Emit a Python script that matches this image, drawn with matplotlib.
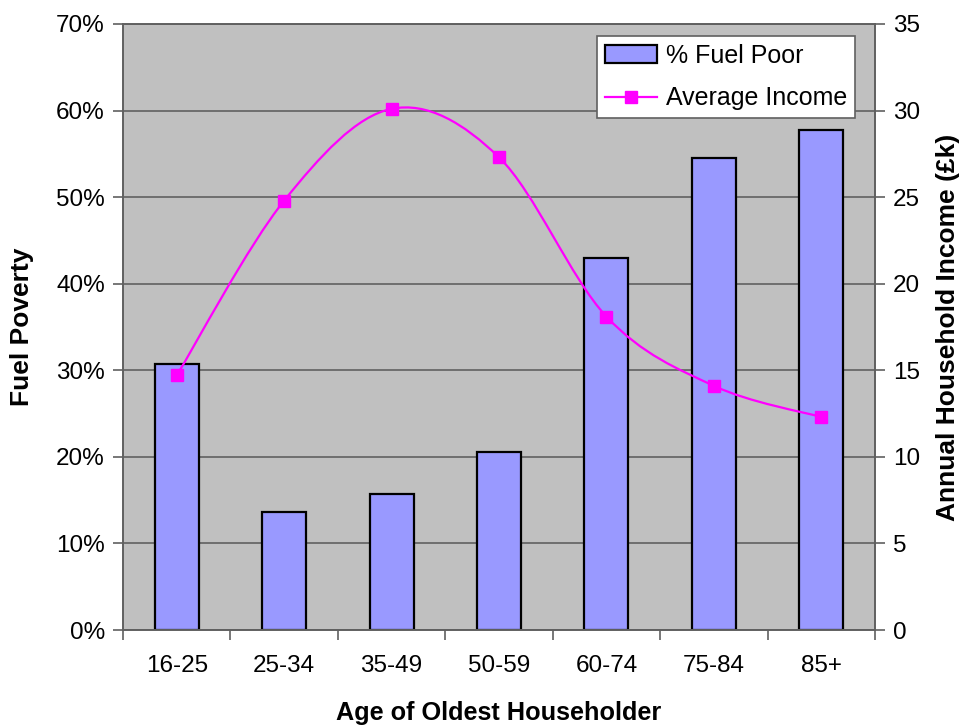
import numpy as np
import matplotlib
matplotlib.use("Agg")
import matplotlib.pyplot as plt
from matplotlib.path import Path
from matplotlib.patches import PathPatch, Patch
from matplotlib.ticker import FuncFormatter, FixedLocator
from matplotlib.lines import Line2D

plt.rcParams['font.family'] = ['Liberation Sans', 'DejaVu Sans']

# data
ages = ["16-25", "25-34", "35-49", "50-59", "60-74", "75-84", "85+"]
fuel_poor = [30.7, 13.6, 15.7, 20.6, 43.0, 54.5, 57.7]      # %
avg_income = [14.7, 24.8, 30.1, 27.3, 18.1, 14.1, 12.3]     # £k

bar_col = "#9999FF"
line_col = "#FF00FF"
grid_col = "#606060"

fig = plt.figure(figsize=(9.63, 7.27), dpi=100)
ax = fig.add_axes([0.1277, 0.1334, 0.781, 0.8336])
ax.set_facecolor("#C0C0C0")

x = np.arange(len(ages))
ax.bar(x, fuel_poor, width=0.41, color=bar_col, edgecolor="black", linewidth=1.6, zorder=2)
ax.set_xlim(-0.5, len(ages) - 0.5)
ax.set_ylim(0, 70)
ax.set_yticks(np.arange(0, 71, 10))
ax.yaxis.set_major_formatter(FuncFormatter(lambda v, p: f"{int(v)}%"))
ax.grid(axis="y", color=grid_col, linewidth=1.2, zorder=1)
ax.set_axisbelow(True)

# x ticks at category boundaries, labels centred on the bars
ax.xaxis.set_major_locator(FixedLocator(np.arange(-0.5, len(ages), 1.0)))
ax.xaxis.set_minor_locator(FixedLocator(x))
ax.set_xticklabels([])
ax.set_xticklabels(ages, minor=True, fontsize=17.5)
ax.tick_params(axis="x", which="major", length=7, width=1.2, color=grid_col, direction="out")
ax.tick_params(axis="x", which="minor", length=0, pad=18)
ax.tick_params(axis="y", length=7, width=1.2, color=grid_col, labelsize=17.5, pad=6)

for s in ax.spines.values():
    s.set_color(grid_col)
    s.set_linewidth(1.2)

ax.set_ylabel("Fuel Poverty", fontsize=19, fontweight="bold", va="center", ha="center")
ax.yaxis.set_label_coords(-0.134, 0.5)
ax.set_xlabel("Age of Oldest Householder", fontsize=18.2, fontweight="bold",
              va="center", ha="center")
ax.xaxis.set_label_coords(0.5, -0.137)

# secondary axis for income
ax2 = ax.twinx()
ax2.set_ylim(0, 35)
ax2.set_yticks(np.arange(0, 36, 5))
ax2.tick_params(axis="y", length=7, width=1.2, color=grid_col, labelsize=17.5, pad=6)
for s in ax2.spines.values():
    s.set_color(grid_col)
    s.set_linewidth(1.2)
ax2.set_ylabel("Annual Household Income (£k)", fontsize=19, fontweight="bold",
               va="center", ha="center")
ax2.yaxis.set_label_coords(1.097, 0.5)

# smoothed line through the points (Bezier, like a spreadsheet smoothed line)
xs = x.astype(float)
ys = np.array(avg_income, dtype=float)
verts = [(xs[0], ys[0])]
codes = [Path.MOVETO]
n = len(xs)
for i in range(n - 1):
    p0 = (xs[max(i - 1, 0)], ys[max(i - 1, 0)])
    p1 = (xs[i], ys[i])
    p2 = (xs[i + 1], ys[i + 1])
    p3 = (xs[min(i + 2, n - 1)], ys[min(i + 2, n - 1)])
    c1 = (p1[0] + (p2[0] - p0[0]) / 6, p1[1] + (p2[1] - p0[1]) / 6)
    c2 = (p2[0] - (p3[0] - p1[0]) / 6, p2[1] - (p3[1] - p1[1]) / 6)
    verts += [c1, c2, p2]
    codes += [Path.CURVE4] * 3
ax2.add_patch(PathPatch(Path(verts, codes), facecolor="none", edgecolor=line_col,
                        linewidth=1.6, zorder=3))
ax2.plot(xs, ys, linestyle="none", marker="s", markersize=9, color=line_col, zorder=4)

handles = [Patch(facecolor=bar_col, edgecolor="black", linewidth=1.6),
           Line2D([], [], color=line_col, marker="s", markersize=9, linewidth=1.6)]
leg = ax2.legend(handles, ["% Fuel Poor", "Average Income"], loc="upper right",
                 bbox_to_anchor=(0.973, 0.98), borderaxespad=0, fontsize=18,
                 frameon=True, fancybox=False, edgecolor=grid_col, framealpha=1,
                 handlelength=2.1, borderpad=0.3, labelspacing=0.75, handletextpad=0.35)
leg.get_frame().set_linewidth(1.2)

fig.savefig("out.png", dpi=100)
